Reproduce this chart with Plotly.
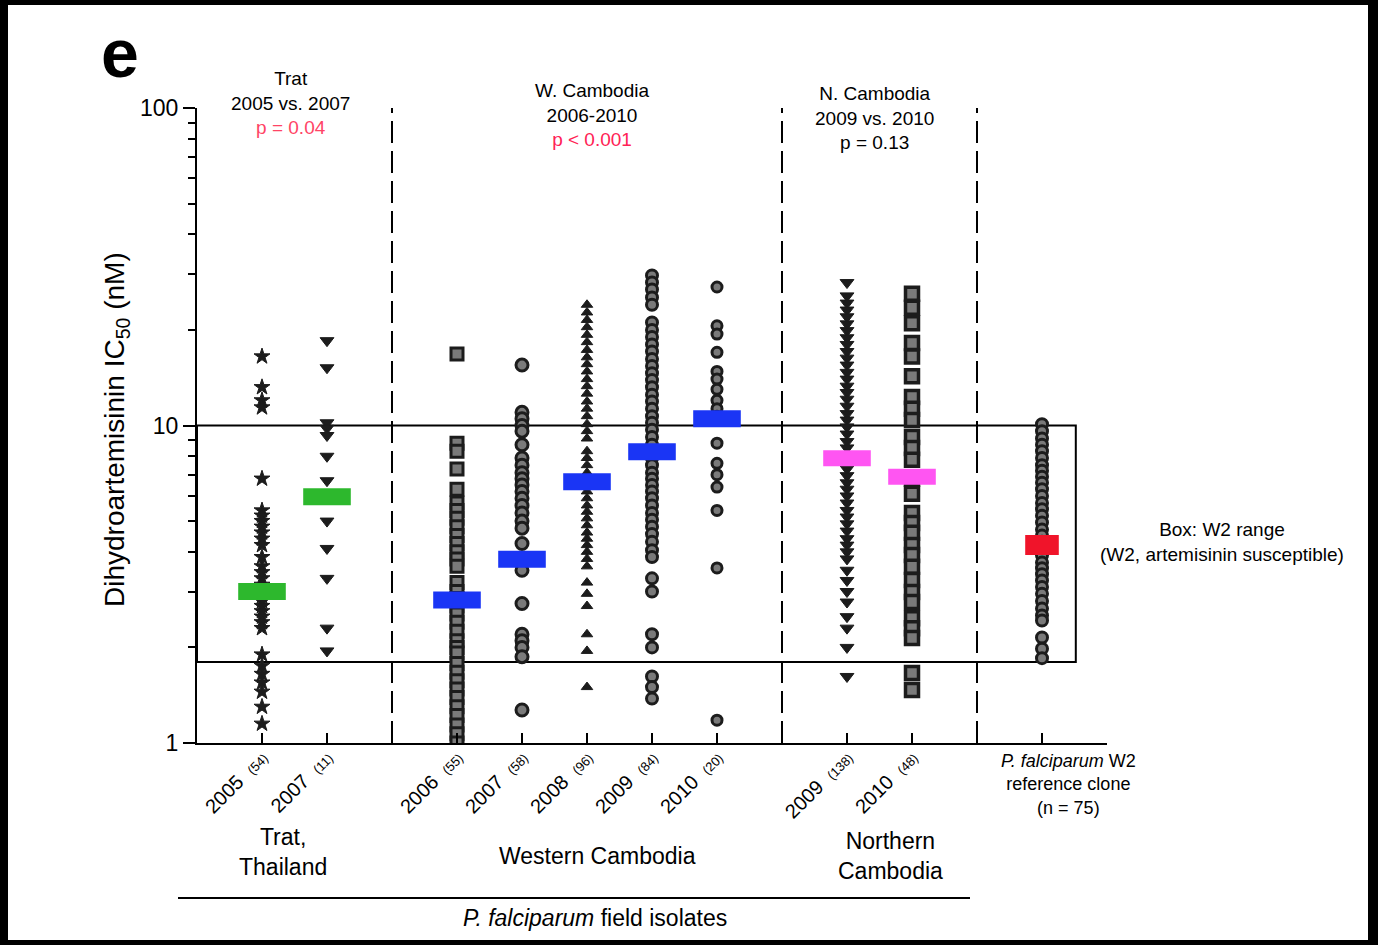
import plotly.graph_objects as go

# ---------------- data ----------------
slots = ["_start", "T2005", "T2007", "div1", "W2006", "W2007", "W2008", "W2009", "W2010",
         "div2", "N2009", "N2010", "div3", "W2", "_end"]
years = {"T2005": "2005", "T2007": "2007", "W2006": "2006", "W2007": "2007", "W2008": "2008",
         "W2009": "2009", "W2010": "2010", "N2009": "2009", "N2010": "2010"}
counts = {"T2005": "54", "T2007": "11", "W2006": "55", "W2007": "58", "W2008": "96",
          "W2009": "84", "W2010": "20", "N2009": "138", "N2010": "48"}

trat2005 = [16.5, 13.2, 12.0, 11.4, 6.8, 5.4, 5.2, 5.0, 4.8, 4.6, 4.4, 4.2, 3.85, 3.6, 3.45, 3.3,
            3.15, 3.05, 2.9, 2.8, 2.7, 2.6, 2.5, 2.4, 2.3, 1.9, 1.75, 1.65, 1.55, 1.45, 1.3, 1.15]
trat2007 = [18.5, 15.2, 10.2, 9.8, 9.3, 8.0, 6.7, 5.0, 4.1, 3.3, 2.3, 1.95]
wc2006 = [16.8, 8.8, 8.3, 7.3, 6.3, 5.7, 5.4, 5.1, 4.8, 4.5, 4.25, 4.0, 3.8, 3.6, 3.2, 3.0, 2.85,
          2.7, 2.55, 2.4, 2.25, 2.1, 2.0, 1.92, 1.78, 1.67, 1.57, 1.48, 1.39, 1.3, 1.22, 1.14,
          1.07, 1.0]
wc2007 = [15.5, 11.0, 10.5, 10.0, 9.6, 8.7, 7.9, 7.5, 7.1, 6.8, 6.5, 6.2, 5.9, 5.6, 5.3, 5.0,
          4.75, 4.25, 3.75, 3.5, 2.75, 2.2, 2.1, 2.0, 1.87, 1.27]
wc2008 = [24.0, 22.7, 21.5, 20.4, 19.3, 18.3, 17.3, 16.4, 15.6, 14.8, 14.0, 13.3, 12.6, 11.9,
          11.3, 10.7, 10.1, 9.6, 9.1, 8.3, 7.9, 7.5, 7.1, 6.8, 6.5, 6.2, 5.9, 5.6, 5.35, 5.1,
          4.85, 4.6, 4.4, 4.2, 4.0, 3.8, 3.6, 3.2, 2.95, 2.7, 2.2, 1.95, 1.5]
wc2009 = [29.7, 28.2, 26.8, 25.3, 24.0, 21.1, 20.0, 19.0, 18.0, 17.1, 16.2, 15.4, 14.6, 13.9,
          13.2, 12.5, 11.9, 11.3, 10.7, 10.2, 9.7, 9.2, 8.7, 8.3, 7.9, 7.5, 7.1, 6.8, 6.5, 6.2,
          5.9, 5.6, 5.3, 5.05, 4.8, 4.55, 4.3, 4.05, 3.85, 3.3, 3.0, 2.2, 2.0, 1.62, 1.5, 1.38]
wc2010 = [27.3, 20.6, 19.4, 17.0, 14.8, 14.0, 13.0, 12.0, 11.3, 10.7, 10.4, 8.8, 7.6, 7.0, 6.4,
          5.4, 3.56, 1.18]
nc2009 = [28.2, 25.6, 24.3, 23.1, 22.0, 20.9, 19.9, 18.9, 18.0, 17.1, 16.3, 15.5, 14.7, 14.0,
          13.3, 12.7, 12.1, 11.5, 10.9, 10.4, 9.9, 9.4, 8.9, 8.5, 8.1, 7.7, 7.3, 6.95, 6.6, 6.3,
          6.0, 5.7, 5.4, 5.15, 4.9, 4.65, 4.4, 4.2, 4.0, 3.8, 3.5, 3.25, 3.0, 2.78, 2.5, 2.3,
          2.0, 1.62]
nc2010 = [26.0, 23.5, 21.0, 18.2, 16.5, 14.3, 12.3, 11.3, 10.4, 9.2, 8.5, 7.8, 6.8, 6.1, 5.3,
          4.93, 4.59, 4.2, 3.91, 3.59, 3.26, 2.99, 2.78, 2.47, 2.3, 2.14, 1.66, 1.47]
w2 = [10.1, 9.6, 9.1, 8.7, 8.3, 7.9, 7.5, 7.2, 6.9, 6.6, 6.3, 6.0, 5.7, 5.45, 5.2, 4.95, 4.7,
      4.5, 4.3, 4.1, 3.9, 3.7, 3.55, 3.4, 3.25, 3.1, 2.95, 2.8, 2.65, 2.52, 2.43, 2.15, 1.98, 1.85]

medians = {"T2005": 3.0, "T2007": 5.97, "W2006": 2.82, "W2007": 3.79, "W2008": 6.65,
           "W2009": 8.27, "W2010": 10.5, "N2009": 7.88, "N2010": 6.9, "W2":  4.2}
w2_range = [1.8, 10.0]

# ---------------- styles ----------------
DARK = "#1c1c1c"
GRAY = "#7a7a7a"
series = [
    ("T2005", trat2005, dict(symbol="star", size=12, color=DARK, line=dict(width=1, color=DARK))),
    ("T2007", trat2007, dict(symbol="triangle-down", size=12, color=DARK, line=dict(width=1, color=DARK))),
    ("W2006", wc2006, dict(symbol="square", size=12, color=GRAY, line=dict(width=3, color=DARK))),
    ("W2007", wc2007, dict(symbol="circle", size=12, color=GRAY, line=dict(width=3, color=DARK))),
    ("W2008", wc2008, dict(symbol="triangle-up", size=10, color=DARK, line=dict(width=1, color=DARK))),
    ("W2009", wc2009, dict(symbol="circle", size=11, color=GRAY, line=dict(width=3, color=DARK))),
    ("W2010", wc2010, dict(symbol="circle", size=10, color=GRAY, line=dict(width=3, color=DARK))),
    ("N2009", nc2009, dict(symbol="triangle-down", size=12, color=DARK, line=dict(width=1, color=DARK))),
    ("N2010", nc2010, dict(symbol="square", size=13, color=GRAY, line=dict(width=3.5, color=DARK))),
    ("W2", w2, dict(symbol="circle", size=11, color=GRAY, line=dict(width=3, color=DARK))),
]
median_style = {
    "T2005": ("#2db82d", 34, 17), "T2007": ("#2db82d", 34, 17),
    "W2006": ("#1a35f5", 34, 17), "W2007": ("#1a35f5", 34, 17), "W2008": ("#1a35f5", 34, 17),
    "W2009": ("#1a35f5", 34, 17), "W2010": ("#1a35f5", 34, 17),
    "N2009": ("#ff55f2", 34, 16), "N2010": ("#ff55f2", 34, 16),
    "W2": ("#f0142a", 24, 20),
}

FONT = "Arial, Liberation Sans, sans-serif"
W, H = 1378, 945
L, R, T, B = 197, 271, 108, 202
PW, PH = W - L - R, H - T - B


def px(xp):
    return (xp - L) / PW


def py(yp):
    return (H - B - yp) / PH


fig = go.Figure()
for key, vals, mk in series:
    fig.add_trace(go.Scatter(x=[key] * len(vals), y=vals, mode="markers", marker=mk,
                             showlegend=False, hoverinfo="y"))
for key, med in medians.items():
    col, sz, lw = median_style[key]
    fig.add_trace(go.Scatter(x=[key], y=[med], mode="markers", showlegend=False,
                             marker=dict(symbol="line-ew", size=sz, color=col,
                                         line=dict(width=lw, color=col))))

shapes = [
    # page frame (black slide border)
    dict(type="rect", xref="paper", yref="paper", x0=px(8), x1=px(1368), y0=py(940), y1=py(5),
         fillcolor="white", line=dict(width=0), layer="below"),
    # W2 range box
    dict(type="rect", xref="x", yref="y", x0="_start", x1=13.52, y0=w2_range[0], y1=w2_range[1],
         line=dict(color="black", width=2), layer="below"),
    # bracket line under field isolates
    dict(type="line", xref="paper", yref="paper", x0=px(178), x1=px(970), y0=py(898), y1=py(898),
         line=dict(color="black", width=2)),
]
for d in ["div1", "div2", "div3"]:
    shapes.append(dict(type="line", xref="x", yref="y", x0=d, x1=d, y0=1, y1=100,
                       line=dict(color="black", width=2, dash="22px,8px"), layer="below"))

tickvals = slots[1:]
ticktext = []
for s in tickvals:
    if s in years:
        ticktext.append(f"{years[s]}&nbsp;&nbsp;<span style='font-size:13px'>({counts[s]})</span>")
    else:
        ticktext.append("")

minor_vals = [2, 3, 4, 5, 6, 7, 8, 9, 20, 30, 40, 50, 60, 70, 80, 90]

fig.update_layout(
    width=W, height=H, margin=dict(l=L, r=R, t=T, b=B),
    paper_bgcolor="black", plot_bgcolor="white",
    font=dict(family=FONT, color="black"),
    shapes=shapes,
    xaxis=dict(type="category", categoryorder="array", categoryarray=slots, range=[0, 14],
               showgrid=False, zeroline=False, showline=True, linecolor="black", linewidth=2,
               ticks="inside", ticklen=10, tickwidth=2, tickcolor="black",
               tickvals=tickvals, ticktext=ticktext, tickangle=-45, ticklabelstandoff=-7,
               tickfont=dict(size=20, family=FONT, color="black")),
    yaxis=dict(type="log", range=[0, 2], showgrid=False, zeroline=False, showline=True,
               linecolor="black", linewidth=2, ticks="outside", ticklen=12, tickwidth=2,
               tickcolor="black", tickvals=[1, 10, 100], ticktext=["1", "10", "100"],
               tickfont=dict(size=23, family=FONT, color="black"),
               minor=dict(tickvals=minor_vals, ticks="outside", ticklen=7, tickwidth=2,
                          tickcolor="black", showgrid=False)),
)

ann = [
    dict(text="<b>e</b>", x=px(120), y=py(53), size=68),
    dict(text="Trat<br>2005 vs. 2007<br><span style='color:#ff4466'>p = 0.04</span>",
         x=px(290), y=py(103), size=19),
    dict(text="W. Cambodia<br>2006-2010<br><span style='color:#ff2255'>p &lt; 0.001</span>",
         x=px(592), y=py(115), size=19),
    dict(text="N. Cambodia<br>2009 vs. 2010<br>p = 0.13", x=px(874), y=py(118), size=19),
    dict(text="Box: W2 range<br>(W2, artemisinin susceptible)", x=px(1222), y=py(542), size=19),
    dict(text="<i>P. falciparum</i> W2<br>reference clone<br>(n = 75)", x=px(1068), y=py(784),
         size=18),
    dict(text="Trat,<br>Thailand", x=px(283), y=py(852), size=23),
    dict(text="Western Cambodia", x=px(597), y=py(856), size=23),
    dict(text="Northern<br>Cambodia", x=px(890), y=py(856), size=23),
    dict(text="<i>P. falciparum</i> field isolates", x=px(595), y=py(918), size=23),
]
for a in ann:
    fig.add_annotation(text=a["text"], x=a["x"], y=a["y"], xref="paper", yref="paper",
                       showarrow=False, xanchor="center", yanchor="middle",
                       font=dict(size=a["size"], family=FONT, color="black"))

fig.add_annotation(text="Dihydroartemisinin IC<sub>50</sub> (nM)", x=px(116), y=py(430),
                   xref="paper", yref="paper", showarrow=False, textangle=-90,
                   xanchor="center", yanchor="middle",
                   font=dict(size=28, family=FONT, color="black"))

fig.write_html("out.html")
